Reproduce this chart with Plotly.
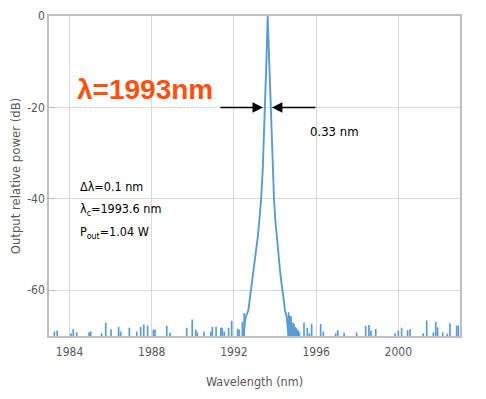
import plotly.graph_objects as go

# ---- data ----
x_ticks = [1984, 1988, 1992, 1996, 2000]
y_ticks = [0, -20, -40, -60]

peak_wl = [1992.40, 1992.46, 1992.52, 1992.57, 1992.63, 1992.70, 1992.76, 1992.83,
           1992.94, 1993.05, 1993.16, 1993.24, 1993.32, 1993.40, 1993.46, 1993.51,
           1993.58, 1993.64, 1993.71, 1993.79, 1993.84, 1993.89, 1993.95, 1994.01,
           1994.08, 1994.16, 1994.24, 1994.30, 1994.37, 1994.43, 1994.48, 1994.57,
           1994.64, 1994.70]
peak_db = [-72.0, -69.5, -67.0, -65.8, -65.2, -64.4, -62.3, -60.0,
           -55.6, -52.0, -48.3, -44.5, -40.1, -33.7, -26.5, -20.4,
           -10.0, 0.0, -9.5, -20.4, -27.5, -33.7, -40.1, -44.5,
           -48.3, -52.0, -55.6, -58.0, -60.0, -62.3, -64.4, -65.8,
           -69.5, -72.0]

noise_wl = [1983.26, 1983.40, 1984.07, 1984.18, 1984.35, 1984.95, 1985.03, 1985.56,
            1985.76, 1986.02, 1986.39, 1986.49, 1986.91, 1987.27, 1987.46, 1987.61,
            1987.80, 1988.08, 1988.16, 1988.73, 1988.89, 1989.70, 1989.97, 1990.14,
            1990.22, 1990.54, 1990.87, 1990.95, 1991.13, 1991.36, 1991.43, 1991.53,
            1991.74, 1991.89, 1992.18, 1992.26, 1992.41, 1992.50,
            1994.66, 1994.70, 1994.73, 1994.78, 1994.82, 1994.86, 1994.89, 1994.92,
            1994.97, 1995.00, 1995.03, 1995.08, 1995.13, 1995.18,
            1995.41, 1995.57, 1995.67, 1995.78, 1996.22, 1996.35, 1996.95, 1997.05,
            1997.36, 1997.97, 1998.41, 1998.57, 1998.67, 1998.90, 1999.84, 2000.00,
            2000.16, 2000.45, 2000.57, 2001.21, 2001.38, 2001.70, 2001.82, 2001.91,
            2002.16, 2002.38, 2002.51, 2002.84, 2002.92]
noise_db = [-69.0, -68.8, -69.4, -68.5, -69.2, -69.2, -69.0, -69.4,
            -67.1, -68.5, -68.0, -69.0, -68.2, -69.0, -68.0, -67.5,
            -67.7, -68.6, -68.6, -67.8, -69.3, -68.2, -66.4, -68.6,
            -69.2, -69.0, -69.0, -68.0, -68.0, -68.2, -68.2, -69.0,
            -68.2, -66.7, -68.4, -68.6, -66.9, -65.0,
            -64.8, -65.5, -65.8, -65.7, -67.0, -67.7, -67.2, -67.4,
            -68.0, -68.2, -68.3, -68.6, -68.8, -69.2,
            -67.1, -68.2, -69.4, -67.3, -67.4, -69.0, -69.4, -68.7,
            -69.3, -69.2, -67.8, -67.6, -68.8, -68.5, -69.4, -68.8,
            -68.2, -68.7, -68.5, -69.4, -66.6, -69.2, -66.9, -68.1,
            -69.2, -69.5, -67.2, -67.7, -67.7]

BLUE = "#5B9BD5"
GREY = "#595959"
FONT = "Liberation Sans Narrow, DejaVu Sans Condensed, Liberation Sans, sans-serif"
Y_MIN = -70

# vertical noise spikes from the bottom of the axis
sx, sy = [], []
for w, d in zip(noise_wl, noise_db):
    sx += [w, w, None]
    sy += [Y_MIN - 2, d, None]

fig = go.Figure()
fig.add_trace(go.Scatter(x=sx, y=sy, mode="lines", line=dict(color=BLUE, width=1.7),
                         showlegend=False, hoverinfo="skip"))
fig.add_trace(go.Scatter(x=peak_wl, y=peak_db, mode="lines",
                         line=dict(color=BLUE, width=1.9), showlegend=False))

# the page body adds an 8 px offset; size the figure to fill the window
fig.update_layout(
    width=478, height=391,
    margin=dict(l=41, r=26, t=8, b=63),
    paper_bgcolor="white", plot_bgcolor="white",
    font=dict(family=FONT, size=12, color=GREY),
    xaxis=dict(range=[1983, 2003], tickvals=x_ticks, ticktext=[str(v) for v in x_ticks],
               showgrid=True, gridcolor="#d9d9d9", gridwidth=1,
               showline=True, linecolor="#bfbfbf", linewidth=1.5, mirror=True,
               ticks="", zeroline=False, automargin=False, ticklabelstandoff=4,
               title=dict(text="Wavelength (nm)", standoff=19,
                          font=dict(family=FONT, size=12.5, color=GREY)),
               tickfont=dict(family=FONT, size=12, color=GREY)),
    yaxis=dict(range=[Y_MIN, 0], tickvals=y_ticks, ticktext=[str(v) for v in y_ticks],
               showgrid=True, gridcolor="#d9d9d9", gridwidth=1,
               showline=True, linecolor="#bfbfbf", linewidth=1.5, mirror=True,
               ticks="inside", ticklen=6, tickcolor="#bfbfbf",
               zeroline=False, automargin=False,
               title=dict(text="Output relative power (dB)", standoff=7,
                          font=dict(family=FONT, size=13, color=GREY)),
               tickfont=dict(family=FONT, size=12, color=GREY)),
)

# big wavelength label
fig.add_annotation(x=1987.67, y=-16.0, xref="x", yref="y", showarrow=False,
                   text="<b>λ=1993nm</b>", xanchor="center", yanchor="middle",
                   font=dict(family="Liberation Sans, Arial, sans-serif", size=28,
                             color="#FF5010"))
# FWHM arrows
fig.add_annotation(x=1993.41, y=-20, ax=1991.27, ay=-20, xref="x", yref="y",
                   axref="x", ayref="y", text="", showarrow=True,
                   arrowhead=2, arrowsize=1.3, arrowwidth=1.6, arrowcolor="black")
fig.add_annotation(x=1993.85, y=-20, ax=1996.04, ay=-20, xref="x", yref="y",
                   axref="x", ayref="y", text="", showarrow=True,
                   arrowhead=2, arrowsize=1.3, arrowwidth=1.6, arrowcolor="black")
fig.add_annotation(x=1995.60, y=-25.2, xref="x", yref="y", showarrow=False,
                   text="0.33 nm", xanchor="left", yanchor="middle",
                   font=dict(family=FONT, size=13, color="black"))
# parameter notes
for yy, txt in [(-37.2, "Δλ=0.1 nm"), (-42.3, "λ<sub>c</sub>=1993.6 nm"),
                (-47.3, "P<sub>out</sub>=1.04 W")]:
    fig.add_annotation(x=1984.41, y=yy, xref="x", yref="y", showarrow=False,
                       text=txt, xanchor="left", yanchor="middle",
                       font=dict(family=FONT, size=12.5, color="black"))

fig.write_html("out.html")
